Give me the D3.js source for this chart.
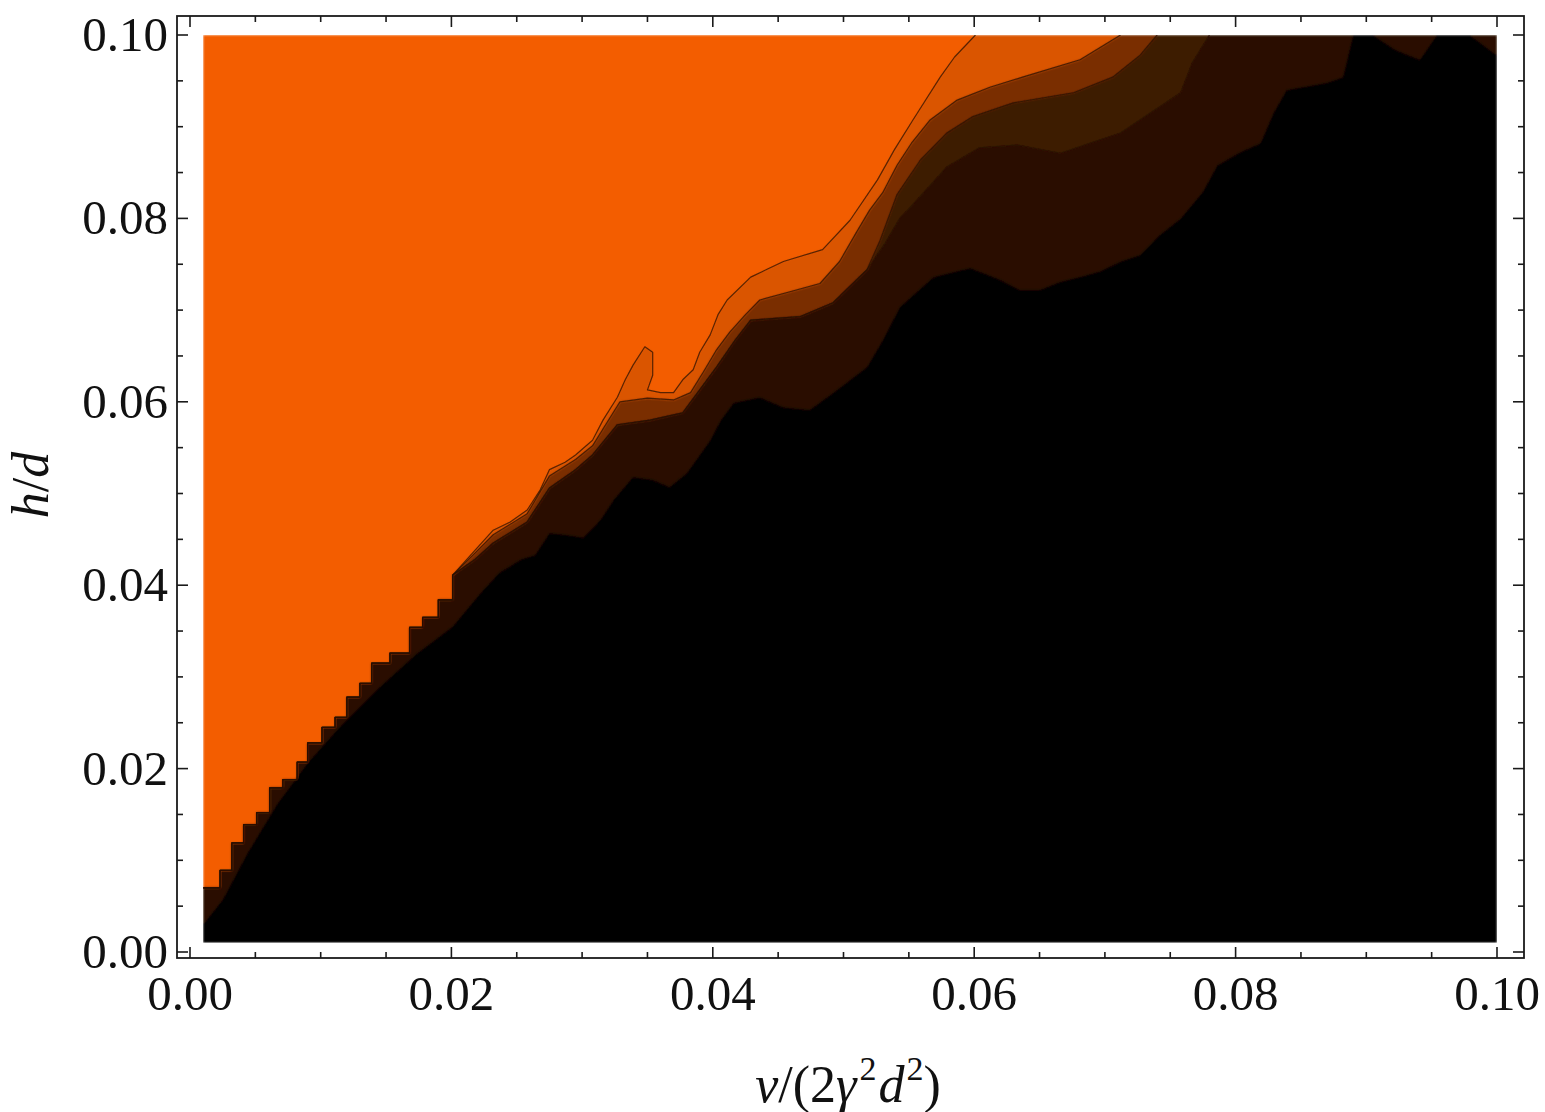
<!DOCTYPE html>
<html>
<head>
<meta charset="utf-8">
<script src="https://cdn.jsdelivr.net/npm/d3@7"></script>
<style>
  body { margin: 0; background: #fff; }
  svg { display: block; }
  text { font-family: "Liberation Serif", "Times New Roman", serif; fill: #111; }
</style>
</head>
<body>
<svg id="chart" width="1545" height="1112"></svg>
<script>
// ---- axis ranges and ticks ----
const vAxisDomain = [0, 0.1];
const hAxisDomain = [0, 0.1];
const vSampled = [0.001, 0.1];   // extent of the computed region map
const hSampled = [0.001, 0.1];
const majorTicks = [0, 0.02, 0.04, 0.06, 0.08, 0.10];
const majorTickLabels = ["0.00", "0.02", "0.04", "0.06", "0.08", "0.10"];
const minorTicks = [0.005, 0.01, 0.015, 0.025, 0.03, 0.035, 0.045, 0.05, 0.055,
                    0.065, 0.07, 0.075, 0.085, 0.09, 0.095];

// ---- contour levels: fill colour of the area beyond each boundary ----
const levelColors = ["#F35D00", "#DA5500", "#7A2E00", "#3E1A00", "#2A1100", "#000000"];

// ---- contour boundaries, [v, h] points ----
// staircase shared by the first four level boundaries at small v
const stairEdge = [
  [0.0010,0.0070],[0.0023,0.0070],[0.0023,0.0089],[0.0032,0.0089],[0.0032,0.0119],
  [0.0041,0.0119],[0.0041,0.0139],[0.0051,0.0139],[0.0051,0.0152],[0.0061,0.0152],
  [0.0061,0.0179],[0.0071,0.0179],[0.0071,0.0188],[0.0082,0.0188],[0.0082,0.0207],
  [0.0090,0.0207],[0.0090,0.0228],[0.0101,0.0228],[0.0101,0.0245],[0.0111,0.0245],
  [0.0111,0.0256],[0.0120,0.0256],[0.0120,0.0278],[0.0130,0.0278],[0.0130,0.0293],
  [0.0139,0.0293],[0.0139,0.0315],[0.0153,0.0315],[0.0153,0.0326],[0.0168,0.0326],
  [0.0168,0.0354],[0.0178,0.0354],[0.0178,0.0365],[0.0190,0.0365],[0.0190,0.0384],
  [0.0201,0.0384],[0.0201,0.0411]
];

const edge1Upper = [
  [0.0218,0.0438],[0.0232,0.0460],[0.0245,0.0469],[0.0258,0.0482],[0.0268,0.0504],
  [0.0275,0.0526],[0.0287,0.0534],[0.0295,0.0542],[0.0308,0.0558],[0.0316,0.0580],
  [0.0327,0.0605],[0.0333,0.0624],[0.0339,0.0640],[0.0348,0.0660],[0.0354,0.0654],
  [0.0354,0.0629],[0.0350,0.0613],[0.0360,0.0610],[0.0370,0.0610],[0.0377,0.0624],
  [0.0385,0.0635],[0.0390,0.0654],[0.0398,0.0673],[0.0404,0.0695],[0.0411,0.0711],
  [0.0429,0.0736],[0.0454,0.0753],[0.0484,0.0766],[0.0505,0.0798],[0.0526,0.0842],
  [0.0539,0.0875],[0.0553,0.0907],[0.0574,0.0954],[0.0585,0.0976],[0.0601,0.1000]
];

const edge2Upper = [
  [0.0218,0.0435],[0.0232,0.0455],[0.0258,0.0478],[0.0275,0.0519],[0.0295,0.0537],
  [0.0308,0.0552],[0.0318,0.0575],[0.0329,0.0600],[0.0350,0.0604],[0.0370,0.0602],
  [0.0383,0.0610],[0.0393,0.0633],[0.0403,0.0657],[0.0413,0.0676],[0.0425,0.0695],
  [0.0436,0.0711],[0.0459,0.0720],[0.0482,0.0729],[0.0497,0.0753],[0.0510,0.0785],
  [0.0520,0.0809],[0.0530,0.0828],[0.0541,0.0858],[0.0552,0.0882],[0.0566,0.0907],
  [0.0587,0.0929],[0.0612,0.0943],[0.0637,0.0954],[0.0681,0.0973],[0.0712,0.1000]
];

// middle stretch shared by the third and fourth boundaries
const edge34Middle = [
  [0.0218,0.0428],[0.0232,0.0446],[0.0258,0.0469],[0.0275,0.0506],[0.0295,0.0526],
  [0.0308,0.0542],[0.0327,0.0575],[0.0352,0.0580],[0.0377,0.0588],[0.0390,0.0613],
  [0.0403,0.0638],[0.0417,0.0667],[0.0429,0.0689],[0.0448,0.0691],[0.0467,0.0693],
  [0.0492,0.0708],[0.0518,0.0744]
];

const edge3Top = [
  [0.0528,0.0776],[0.0541,0.0826],[0.0559,0.0864],[0.0579,0.0893],[0.0599,0.0911],
  [0.0630,0.0926],[0.0676,0.0937],[0.0706,0.0954],[0.0727,0.0978],[0.0740,0.1000]
];

const edge4Top = [
  [0.0532,0.0773],[0.0543,0.0800],[0.0553,0.0815],[0.0579,0.0856],[0.0604,0.0877],
  [0.0633,0.0880],[0.0666,0.0871],[0.0712,0.0893],[0.0758,0.0937],[0.0767,0.0970],
  [0.0780,0.1000]
];

// outline of the black region
const edge5 = [
  [0.0010,0.0030],[0.0025,0.0057],[0.0044,0.0108],[0.0067,0.0162],[0.0090,0.0206],
  [0.0113,0.0243],[0.0143,0.0286],[0.0174,0.0326],[0.0201,0.0355],[0.0222,0.0391],
  [0.0237,0.0414],[0.0253,0.0428],[0.0264,0.0433],[0.0275,0.0457],[0.0287,0.0455],
  [0.0301,0.0452],[0.0314,0.0471],[0.0324,0.0493],[0.0339,0.0518],[0.0354,0.0515],
  [0.0367,0.0507],[0.0380,0.0522],[0.0390,0.0542],[0.0398,0.0558],[0.0406,0.0580],
  [0.0416,0.0599],[0.0436,0.0605],[0.0454,0.0594],[0.0474,0.0591],[0.0495,0.0613],
  [0.0518,0.0638],[0.0530,0.0667],[0.0543,0.0703],[0.0569,0.0736],[0.0597,0.0746],
  [0.0620,0.0733],[0.0635,0.0722],[0.0650,0.0722],[0.0666,0.0731],[0.0681,0.0736],
  [0.0696,0.0742],[0.0712,0.0753],[0.0727,0.0760],[0.0742,0.0782],[0.0758,0.0800],
  [0.0775,0.0829],[0.0786,0.0858],[0.0803,0.0872],[0.0819,0.0882],[0.0829,0.0915],
  [0.0839,0.0940],[0.0870,0.0948],[0.0882,0.0954],[0.0890,0.1000],[0.0905,0.1000],
  [0.0922,0.0984],[0.0941,0.0973],[0.0954,0.1000],[0.0979,0.1000],[0.1000,0.0978]
];

const boundaries = [
  stairEdge.concat(edge1Upper),
  stairEdge.concat(edge2Upper),
  stairEdge.concat(edge34Middle, edge3Top),
  stairEdge.concat(edge34Middle, edge4Top),
  edge5
];

// ---- layout ----
const svg = d3.select("#chart");
const x = d3.scaleLinear().domain(vAxisDomain).range([190, 1497]);
const y = d3.scaleLinear().domain(hAxisDomain).range([952, 35]);
const frame = { left: 177, right: 1524, top: 16, bottom: 958 };
const majorLen = 11, minorLen = 6;

// ---- filled contour regions ----
const defs = svg.append("defs");
defs.append("clipPath").attr("id", "plot-clip")
  .append("rect")
  .attr("x", x(vSampled[0])).attr("y", y(hSampled[1]))
  .attr("width", x(vSampled[1]) - x(vSampled[0]))
  .attr("height", y(hSampled[0]) - y(hSampled[1]));
defs.append("filter").attr("id", "soft")
  .append("feGaussianBlur").attr("stdDeviation", 1.0);
defs.append("filter").attr("id", "soft-line")
  .append("feGaussianBlur").attr("stdDeviation", 0.45);

const clipped = svg.append("g").attr("clip-path", "url(#plot-clip)");
const regions = clipped.append("g").attr("filter", "url(#soft)");
const contourLines = clipped.append("g").attr("filter", "url(#soft-line)");

regions.append("rect")
  .attr("x", x(vSampled[0])).attr("y", y(hSampled[1]))
  .attr("width", x(vSampled[1]) - x(vSampled[0]))
  .attr("height", y(hSampled[0]) - y(hSampled[1]))
  .attr("fill", levelColors[0]);

const line = d3.line().x(d => x(d[0])).y(d => y(d[1]));

function regionBeyond(pts) {
  const last = pts[pts.length - 1];
  const closing = [];
  if (last[1] >= hSampled[1]) closing.push([vSampled[1], hSampled[1]]);
  closing.push([vSampled[1], hSampled[0]], [vSampled[0], hSampled[0]]);
  return pts.concat(closing);
}

boundaries.forEach((pts, i) => {
  regions.append("path")
    .attr("d", line(regionBeyond(pts)) + "Z")
    .attr("fill", levelColors[i + 1]);
});

// contour lines on the level boundaries
boundaries.slice(0, 4).forEach(pts => {
  contourLines.append("path")
    .attr("d", line(pts))
    .attr("fill", "none")
    .attr("stroke", "#2a1000")
    .attr("stroke-opacity", 0.75)
    .attr("stroke-width", 1.2)
    .attr("stroke-linejoin", "round");
});

// ---- frame and ticks ----
svg.append("rect")
  .attr("x", frame.left).attr("y", frame.top)
  .attr("width", frame.right - frame.left)
  .attr("height", frame.bottom - frame.top)
  .attr("fill", "none").attr("stroke", "#1a1a1a").attr("stroke-width", 1.8);

const ticks = svg.append("g").attr("stroke", "#1a1a1a").attr("stroke-width", 1.6);
function drawTicks(values, len) {
  values.forEach(t => {
    ticks.append("line").attr("x1", x(t)).attr("x2", x(t))
      .attr("y1", frame.bottom).attr("y2", frame.bottom - len);
    ticks.append("line").attr("x1", x(t)).attr("x2", x(t))
      .attr("y1", frame.top).attr("y2", frame.top + len);
    ticks.append("line").attr("y1", y(t)).attr("y2", y(t))
      .attr("x1", frame.left).attr("x2", frame.left + len);
    ticks.append("line").attr("y1", y(t)).attr("y2", y(t))
      .attr("x1", frame.right).attr("x2", frame.right - len);
  });
}
drawTicks(majorTicks, majorLen);
drawTicks(minorTicks, minorLen);

// ---- tick labels ----
const labelSize = 49;
svg.append("g").selectAll("text").data(majorTicks).join("text")
  .attr("x", d => x(d)).attr("y", 1010)
  .attr("text-anchor", "middle")
  .attr("font-size", labelSize)
  .text((d, i) => majorTickLabels[i]);

svg.append("g").selectAll("text").data(majorTicks).join("text")
  .attr("x", 168).attr("y", d => y(d) + 16)
  .attr("text-anchor", "end")
  .attr("font-size", labelSize)
  .text((d, i) => majorTickLabels[i]);

// ---- axis titles ----
const xTitle = svg.append("text")
  .attr("x", 848).attr("y", 1102)
  .attr("text-anchor", "middle")
  .attr("font-size", 52);
xTitle.append("tspan").attr("font-style", "italic").text("v");
xTitle.append("tspan").text("/(2");
xTitle.append("tspan").attr("font-style", "italic").text("γ");
xTitle.append("tspan").attr("font-size", 34).attr("dy", -22).attr("dx", 3).text("2");
xTitle.append("tspan").attr("font-style", "italic").attr("dy", 22).attr("dx", 2).text("d");
xTitle.append("tspan").attr("font-size", 34).attr("dy", -22).attr("dx", 2).text("2");
xTitle.append("tspan").attr("dy", 22).text(")");

const yTitle = svg.append("text")
  .attr("transform", "translate(48,485) rotate(-90)")
  .attr("text-anchor", "middle")
  .attr("font-size", 52);
yTitle.append("tspan").attr("font-style", "italic").text("h");
yTitle.append("tspan").text("/");
yTitle.append("tspan").attr("font-style", "italic").text("d");
</script>
</body>
</html>
